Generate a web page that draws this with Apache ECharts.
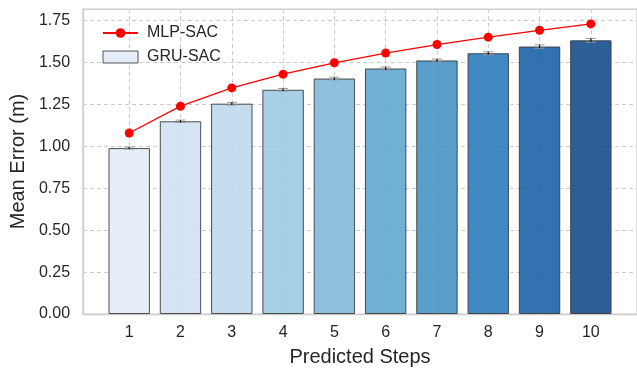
<!DOCTYPE html>
<html>
<head>
<meta charset="utf-8">
<script src="https://cdn.jsdelivr.net/npm/echarts@6/dist/echarts.min.js"></script>
<style>
html,body{margin:0;padding:0;background:#fff;}
#chart{width:637px;height:373px;}
</style>
</head>
<body>
<div id="chart"></div>
<script>
// Data
const steps = [1, 2, 3, 4, 5, 6, 7, 8, 9, 10];
const gruSac = [0.99, 1.15, 1.255, 1.338, 1.405, 1.465, 1.513, 1.556, 1.596, 1.633];
const gruErr = [0.006, 0.007, 0.008, 0.008, 0.008, 0.009, 0.009, 0.009, 0.010, 0.011];
const mlpSac = [1.08, 1.24, 1.349, 1.431, 1.499, 1.557, 1.608, 1.652, 1.693, 1.731];
const barColors = ['#e3edf8', '#cfe1f2', '#c0d8ed', '#9ecbe1', '#83bada', '#60a7d0', '#4894c6', '#2d7cbd', '#1c63a7', '#154d8d'];
const yTicks = [0, 0.25, 0.5, 0.75, 1.0, 1.25, 1.5, 1.75];

const font = 'Liberation Sans, Arial, sans-serif';
const txt = '#262626';

const chart = echarts.init(document.getElementById('chart'), null, {renderer: 'canvas'});

const option = {
  animation: false,
  backgroundColor: '#ffffff',
  grid: {
    left: 82, top: 9, right: -4, bottom: 59,
    show: true, borderColor: '#cccccc', borderWidth: 1.25, backgroundColor: 'transparent'
  },
  legend: {
    orient: 'vertical',
    left: 97, top: 20,
    itemWidth: 35, itemHeight: 12, itemGap: 8,
    textStyle: {fontFamily: font, fontSize: 16, color: txt, lineHeight: 16, padding: [0, 0, 0, 4]},
    data: [
      {name: 'MLP-SAC'},
      {name: 'GRU-SAC', icon: 'rect', itemStyle: {color: '#e4edf8', borderColor: '#555', borderWidth: 1}}
    ]
  },
  xAxis: {
    type: 'value', min: 0.1, max: 10.9,
    name: 'Predicted Steps', nameLocation: 'middle', nameGap: 33,
    nameTextStyle: {fontFamily: font, fontSize: 20, color: txt},
    axisLine: {show: true, lineStyle: {color: '#cccccc', width: 1.25}},
    axisTick: {show: false, customValues: steps},
    axisLabel: {
      fontFamily: font, fontSize: 16, color: txt, margin: 11,
      customValues: steps,
      formatter: v => String(Math.round(v))
    },
    splitLine: {show: true, lineStyle: {color: '#cccccc', type: [4, 3], width: 1}}
  },
  yAxis: {
    type: 'value', min: 0, max: 1.82, interval: 0.25,
    name: 'Mean Error (m)', nameLocation: 'middle', nameGap: 55,
    nameTextStyle: {fontFamily: font, fontSize: 20, color: txt},
    axisLine: {show: true, lineStyle: {color: '#cccccc', width: 1.25}},
    axisTick: {show: false},
    axisLabel: {
      fontFamily: font, fontSize: 16, color: txt, margin: 13,
      showMaxLabel: false,
      formatter: v => (yTicks.some(t => Math.abs(t - v) < 1e-9) ? v.toFixed(2) : '')
    },
    splitLine: {show: true, lineStyle: {color: '#cccccc', type: [4, 3], width: 1}}
  },
  series: [
    {
      name: 'GRU-SAC',
      type: 'bar',
      barWidth: 41.4,
      color: '#e4edf8',
      z: 2,
      data: steps.map((s, i) => ({
        value: [s, gruSac[i]],
        itemStyle: {color: barColors[i], borderColor: '#3a3a3a', borderWidth: 1, opacity: 0.9}
      }))
    },
    {
      name: 'err',
      type: 'custom',
      z: 3,
      silent: true,
      data: steps.map((s, i) => [s, gruSac[i], gruErr[i]]),
      renderItem: function (params, api) {
        const x = api.value(0), y = api.value(1), e = api.value(2);
        const lo = api.coord([x, y - e]);
        const hi = api.coord([x, y + e]);
        const hw = 5;
        return {
          type: 'group',
          children: [
            {type: 'line', shape: {x1: lo[0] - hw, y1: lo[1], x2: lo[0] + hw, y2: lo[1]}, style: {stroke: '#999999', lineWidth: 1}},
            {type: 'line', shape: {x1: hi[0] - hw, y1: hi[1], x2: hi[0] + hw, y2: hi[1]}, style: {stroke: '#999999', lineWidth: 1}},
            {type: 'line', shape: {x1: lo[0], y1: lo[1], x2: hi[0], y2: hi[1]}, style: {stroke: '#111111', lineWidth: 1.2}}
          ]
        };
      }
    },
    {
      name: 'MLP-SAC',
      type: 'line',
      z: 5,
      color: '#ff0000',
      symbol: 'circle',
      symbolSize: 9,
      lineStyle: {color: '#ff0000', width: 1.3},
      itemStyle: {color: '#ff0000'},
      data: steps.map((s, i) => [s, mlpSac[i]])
    }
  ]
};
chart.setOption(option);
</script>
</body>
</html>
